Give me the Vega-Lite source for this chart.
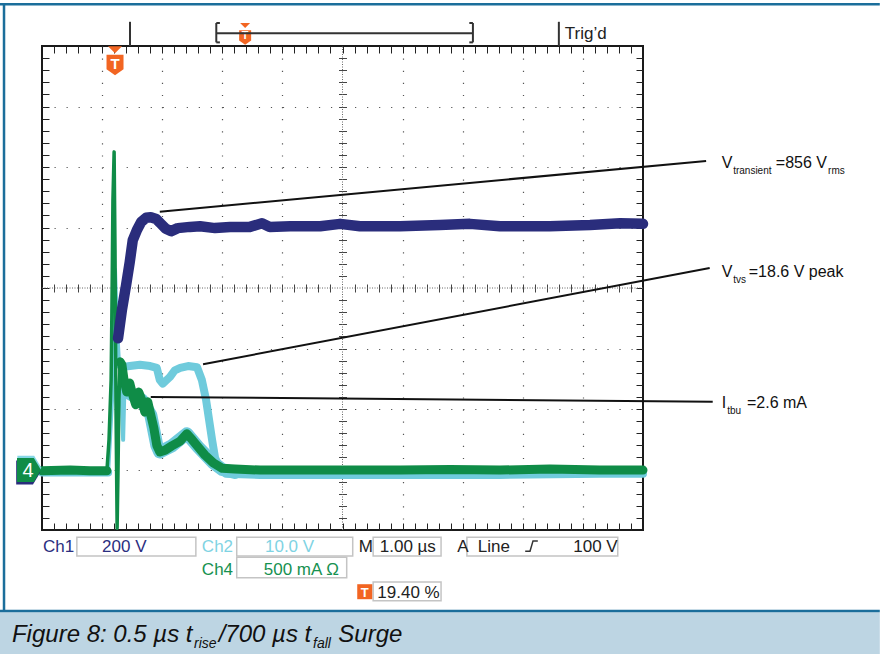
{
  "$schema": "https://vega.github.io/schema/vega-lite/v6.json",
  "width": 601,
  "height": 484,
  "autosize": {"type": "none"},
  "padding": {"left": 42, "top": 46, "right": 237, "bottom": 124},
  "background": "white",
  "config": {
    "view": {"stroke": "#1a1a1a", "strokeWidth": 2},
    "font": "Liberation Sans, Arial, sans-serif"
  },
  "datasets": {
    "ch1": [
      {"t":1.265,"v":-0.83},{"t":1.33,"v":-0.36},{"t":1.40,"v":0.05},{"t":1.46,"v":0.43},{"t":1.51,"v":0.79},{"t":1.58,"v":0.96},{"t":1.65,"v":1.09},{"t":1.73,"v":1.16},{"t":1.81,"v":1.17},{"t":1.90,"v":1.14},{"t":1.98,"v":1.06},{"t":2.06,"v":0.98},{"t":2.15,"v":0.94},{"t":2.26,"v":0.99},{"t":2.46,"v":1.01},{"t":2.63,"v":1.02},{"t":2.88,"v":0.99},{"t":3.13,"v":1.01},{"t":3.46,"v":1.01},{"t":3.66,"v":1.07},{"t":3.79,"v":1.01},{"t":4.13,"v":1.02},{"t":4.63,"v":1.02},{"t":4.96,"v":1.06},{"t":5.29,"v":1.02},{"t":5.96,"v":1.02},{"t":6.62,"v":1.04},{"t":7.12,"v":1.06},{"t":7.62,"v":1.02},{"t":8.45,"v":1.02},{"t":9.12,"v":1.04},{"t":9.62,"v":1.07},{"t":10.0,"v":1.06}
    ],
    "ch2": [
      {"seg":"a","t":0,"v":-3.05},{"seg":"a","t":1.10,"v":-3.05},
      {"seg":"b","t":1.28,"v":-1.22},{"seg":"b","t":1.31,"v":-1.29},{"seg":"b","t":1.38,"v":-1.30},{"seg":"b","t":1.46,"v":-1.29},{"seg":"b","t":1.63,"v":-1.27},{"seg":"b","t":1.80,"v":-1.29},{"seg":"b","t":1.91,"v":-1.32},{"seg":"b","t":1.96,"v":-1.52},{"seg":"b","t":2.01,"v":-1.58},{"seg":"b","t":2.13,"v":-1.47},{"seg":"b","t":2.21,"v":-1.36},{"seg":"b","t":2.30,"v":-1.32},{"seg":"b","t":2.43,"v":-1.29},{"seg":"b","t":2.58,"v":-1.31},{"seg":"b","t":2.66,"v":-1.52},{"seg":"b","t":2.73,"v":-1.85},{"seg":"b","t":2.78,"v":-2.18},{"seg":"b","t":2.83,"v":-2.51},{"seg":"b","t":2.88,"v":-2.81},{"seg":"b","t":2.96,"v":-2.98},{"seg":"b","t":3.06,"v":-3.07},{"seg":"b","t":3.63,"v":-3.09},{"seg":"b","t":4.5,"v":-3.09},{"seg":"b","t":5.96,"v":-3.09},{"seg":"b","t":7.62,"v":-3.09},{"seg":"b","t":9.28,"v":-3.07},{"seg":"b","t":10,"v":-3.07}
    ],
    "ch2halo": [
      {"t":1.41,"v":-1.72},{"t":1.51,"v":-1.77},{"t":1.66,"v":-1.85},{"t":1.81,"v":-2.10},{"t":1.91,"v":-2.60},{"t":1.96,"v":-2.71},{"t":2.16,"v":-2.61},{"t":2.41,"v":-2.41},{"t":2.60,"v":-2.63},{"t":2.85,"v":-2.89},{"t":3.00,"v":-3.00},{"t":3.21,"v":-3.05}
    ],
    "ch2spike": [
      {"seg":"a","t":1.10,"v":-3.04},{"seg":"a","t":1.13,"v":-2.51},{"seg":"a","t":1.165,"v":-1.85},{"seg":"a","t":1.18,"v":-0.69},{"seg":"a","t":1.215,"v":0.30},{"seg":"a","t":1.25,"v":-0.69},{"seg":"a","t":1.28,"v":-1.22},
      {"seg":"b","t":1.31,"v":-1.29},{"seg":"b","t":1.35,"v":-2.51},{"seg":"b","t":1.38,"v":-1.32}
    ],
    "ch4": [
      {"seg":"a","t":0,"v":-3.02},{"seg":"a","t":0.47,"v":-3.01},{"seg":"a","t":0.80,"v":-3.02},{"seg":"a","t":1.08,"v":-3.02},
      {"seg":"b","t":1.30,"v":-1.22},{"seg":"b","t":1.33,"v":-1.27},{"seg":"b","t":1.365,"v":-1.52},{"seg":"b","t":1.41,"v":-1.72},{"seg":"b","t":1.46,"v":-1.57},{"seg":"b","t":1.51,"v":-1.77},{"seg":"b","t":1.56,"v":-1.93},{"seg":"b","t":1.61,"v":-1.72},{"seg":"b","t":1.66,"v":-1.85},{"seg":"b","t":1.71,"v":-2.05},{"seg":"b","t":1.76,"v":-1.88},{"seg":"b","t":1.81,"v":-2.10},{"seg":"b","t":1.86,"v":-2.31},{"seg":"b","t":1.91,"v":-2.60},{"seg":"b","t":1.96,"v":-2.71},{"seg":"b","t":2.05,"v":-2.68},{"seg":"b","t":2.16,"v":-2.61},{"seg":"b","t":2.30,"v":-2.53},{"seg":"b","t":2.41,"v":-2.41},{"seg":"b","t":2.50,"v":-2.51},{"seg":"b","t":2.60,"v":-2.63},{"seg":"b","t":2.71,"v":-2.76},{"seg":"b","t":2.85,"v":-2.89},{"seg":"b","t":3.00,"v":-2.98},{"seg":"b","t":3.21,"v":-2.99},{"seg":"b","t":3.63,"v":-3.01},{"seg":"b","t":4.29,"v":-3.01},{"seg":"b","t":5.12,"v":-3.01},{"seg":"b","t":5.96,"v":-3.01},{"seg":"b","t":6.79,"v":-3.00},{"seg":"b","t":7.62,"v":-3.01},{"seg":"b","t":8.45,"v":-2.99},{"seg":"b","t":9.28,"v":-3.01},{"seg":"b","t":10,"v":-3.01}
    ],
    "ch4spike": [
      {"t":1.08,"v":-3.02},{"t":1.115,"v":-2.51},{"t":1.15,"v":-1.52},{"t":1.165,"v":-0.20},{"t":1.18,"v":1.45},{"t":1.20,"v":2.25},{"t":1.215,"v":0.63},{"t":1.23,"v":-1.85},{"t":1.25,"v":-3.97},{"t":1.265,"v":-3.01},{"t":1.28,"v":-1.85},{"t":1.30,"v":-1.22}
    ],
    "ann": [
      {"t":1.96,"v":1.26,"t2":11.05,"v2":2.10},
      {"t":2.68,"v":-1.26,"t2":11.11,"v2":0.33},
      {"t":1.81,"v":-1.80,"t2":11.16,"v2":-1.88}
    ],
    "annMain": [
      {"t":11.31,"v":1.98,"label":"V"},
      {"t":12.21,"v":1.98,"label":"=856 V"},
      {"t":11.31,"v":0.18,"label":"V"},
      {"t":11.76,"v":0.18,"label":"=18.6 V peak"},
      {"t":11.31,"v":-1.98,"label":"I"},
      {"t":11.73,"v":-1.98,"label":"=2.6 mA"}
    ],
    "annSub": [
      {"t":11.50,"v":1.88,"label":"transient"},
      {"t":13.08,"v":1.88,"label":"rms"},
      {"t":11.50,"v":0.08,"label":"tvs"},
      {"t":11.40,"v":-2.08,"label":"tbu"}
    ],
    "band": [{"t":-0.70,"v":-5.36,"t2":13.94,"v2":-6.06}],
    "frame": [
      {"t":-0.70,"v":4.69,"t2":13.94,"v2":4.69},
      {"t":-0.632,"v":4.69,"t2":-0.632,"v2":-5.34},
      {"t":-0.70,"v":-5.34,"t2":13.94,"v2":-5.34}
    ],
    "cross": [
      {"t":5,"v":-4,"t2":5,"v2":4},
      {"t":0,"v":0,"t2":10,"v2":0}
    ],
    "hdr": [
      {"t":1.464,"v":4.40,"t2":1.464,"v2":4.0},
      {"t":8.60,"v":4.40,"t2":8.60,"v2":4.0},
      {"t":2.90,"v":4.21,"t2":7.17,"v2":4.21},
      {"t":2.90,"v":4.06,"t2":2.90,"v2":4.38},
      {"t":2.90,"v":4.38,"t2":2.96,"v2":4.38},
      {"t":2.90,"v":4.06,"t2":2.96,"v2":4.06},
      {"t":7.17,"v":4.06,"t2":7.17,"v2":4.38},
      {"t":7.11,"v":4.38,"t2":7.17,"v2":4.38},
      {"t":7.11,"v":4.06,"t2":7.17,"v2":4.06}
    ],
    "boxes": [
      {"t":0.58,"v":-4.12,"t2":2.56,"v2":-4.43},
      {"t":3.24,"v":-4.12,"t2":5.17,"v2":-4.43},
      {"t":5.51,"v":-4.12,"t2":6.64,"v2":-4.43},
      {"t":7.07,"v":-4.12,"t2":9.58,"v2":-4.43},
      {"t":3.24,"v":-4.45,"t2":5.07,"v2":-4.79},
      {"t":5.51,"v":-4.86,"t2":6.64,"v2":-5.17}
    ],
    "readout": [
      {"t":0.017,"v":-4.36,"label":"Ch1","ch":"ch1"},
      {"t":1.0,"v":-4.36,"label":"200 V","ch":"ch1"},
      {"t":2.66,"v":-4.36,"label":"Ch2","ch":"ch2"},
      {"t":3.71,"v":-4.36,"label":"10.0 V","ch":"ch2"},
      {"t":5.27,"v":-4.36,"label":"M","ch":"sys"},
      {"t":5.62,"v":-4.36,"label":"1.00 µs","ch":"sys"},
      {"t":6.91,"v":-4.36,"label":"A","ch":"sys"},
      {"t":7.25,"v":-4.36,"label":"Line","ch":"sys"},
      {"t":8.84,"v":-4.36,"label":"100 V","ch":"sys"},
      {"t":2.66,"v":-4.74,"label":"Ch4","ch":"ch4"},
      {"t":3.69,"v":-4.74,"label":"500 mA Ω","ch":"ch4"},
      {"t":5.58,"v":-5.12,"label":"19.40 %","ch":"sys"}
    ],
    "edge": [{"t":8.04,"v":-4.35},{"t":8.12,"v":-4.35},{"t":8.17,"v":-4.18},{"t":8.25,"v":-4.18}],
    "capMain": [
      {"t":-0.50,"v":-5.85,"label":"Figure 8: 0.5 µs t"},
      {"t":2.94,"v":-5.85,"label":"/700 µs t"},
      {"t":4.93,"v":-5.85,"label":"Surge"}
    ],
    "capSub": [
      {"t":2.53,"v":-5.95,"label":"rise"},
      {"t":4.51,"v":-5.95,"label":"fall"}
    ]
  },
  "encoding": {
    "x": {"field": "t", "type": "quantitative", "scale": {"domain": [0, 10], "nice": false, "zero": false}, "axis": null},
    "y": {"field": "v", "type": "quantitative", "scale": {"domain": [-4, 4], "nice": false, "zero": false}, "axis": null}
  },
  "resolve": {"axis": {"x": "independent", "y": "independent"}},
  "layer": [
    {"data": {"name": "band"}, "mark": {"type": "rect", "color": "#bdd5e3"}, "encoding": {"x2": {"field": "t2"}, "y2": {"field": "v2"}}},
    {"data": {"name": "frame"}, "mark": {"type": "rule", "color": "#1b6e9b", "strokeWidth": 2.5}, "encoding": {"x2": {"field": "t2"}, "y2": {"field": "v2"}}},
    {
      "data": {"values": [{"t": 5, "v": 0}]},
      "mark": {"type": "point", "opacity": 0},
      "encoding": {
        "x": {"field": "t", "type": "quantitative", "scale": {"domain": [0, 10], "nice": false, "zero": false},
          "axis": {"orient": "bottom", "offset": -7, "tickSize": 7, "domain": false, "labels": false, "grid": false, "title": null, "tickColor": "#222", "tickWidth": 1,
            "values": [0.2,0.4,0.6,0.8,1,1.2,1.4,1.6,1.8,2,2.2,2.4,2.6,2.8,3,3.2,3.4,3.6,3.8,4,4.2,4.4,4.6,4.8,5,5.2,5.4,5.6,5.8,6,6.2,6.4,6.6,6.8,7,7.2,7.4,7.6,7.8,8,8.2,8.4,8.6,8.8,9,9.2,9.4,9.6,9.8]}},
        "y": {"field": "v", "type": "quantitative", "scale": {"domain": [-4, 4], "nice": false, "zero": false},
          "axis": {"orient": "left", "offset": -7, "tickSize": 7, "domain": false, "labels": false, "grid": false, "title": null, "tickColor": "#222", "tickWidth": 1,
            "values": [-3.8,-3.6,-3.4,-3.2,-3,-2.8,-2.6,-2.4,-2.2,-2,-1.8,-1.6,-1.4,-1.2,-1,-0.8,-0.6,-0.4,-0.2,0,0.2,0.4,0.6,0.8,1,1.2,1.4,1.6,1.8,2,2.2,2.4,2.6,2.8,3,3.2,3.4,3.6,3.8]}}
      }
    },
    {
      "data": {"values": [{"t": 5, "v": 0}]},
      "mark": {"type": "point", "opacity": 0},
      "encoding": {
        "x": {"field": "t", "type": "quantitative", "scale": {"domain": [0, 10], "nice": false, "zero": false},
          "axis": {"orient": "top", "offset": -7, "tickSize": 7, "domain": false, "labels": false, "grid": false, "title": null, "tickColor": "#222", "tickWidth": 1,
            "values": [0.2,0.4,0.6,0.8,1,1.2,1.4,1.6,1.8,2,2.2,2.4,2.6,2.8,3,3.2,3.4,3.6,3.8,4,4.2,4.4,4.6,4.8,5,5.2,5.4,5.6,5.8,6,6.2,6.4,6.6,6.8,7,7.2,7.4,7.6,7.8,8,8.2,8.4,8.6,8.8,9,9.2,9.4,9.6,9.8]}},
        "y": {"field": "v", "type": "quantitative", "scale": {"domain": [-4, 4], "nice": false, "zero": false},
          "axis": {"orient": "right", "offset": -7, "tickSize": 7, "domain": false, "labels": false, "grid": false, "title": null, "tickColor": "#222", "tickWidth": 1,
            "values": [-3.8,-3.6,-3.4,-3.2,-3,-2.8,-2.6,-2.4,-2.2,-2,-1.8,-1.6,-1.4,-1.2,-1,-0.8,-0.6,-0.4,-0.2,0,0.2,0.4,0.6,0.8,1,1.2,1.4,1.6,1.8,2,2.2,2.4,2.6,2.8,3,3.2,3.4,3.6,3.8]}}
      }
    },
    {
      "data": {"values": [{"t": 5, "v": 0}]},
      "mark": {"type": "point", "opacity": 0},
      "encoding": {
        "x": {"field": "t", "type": "quantitative", "scale": {"domain": [0, 10], "nice": false, "zero": false},
          "axis": {"orient": "bottom", "offset": -246, "tickSize": 8, "domain": false, "labels": false, "grid": false, "title": null, "tickColor": "#444", "tickWidth": 1,
            "values": [0.2,0.4,0.6,0.8,1,1.2,1.4,1.6,1.8,2,2.2,2.4,2.6,2.8,3,3.2,3.4,3.6,3.8,4,4.2,4.4,4.6,4.8,5.2,5.4,5.6,5.8,6,6.2,6.4,6.6,6.8,7,7.2,7.4,7.6,7.8,8,8.2,8.4,8.6,8.8,9,9.2,9.4,9.6,9.8]}},
        "y": {"field": "v", "type": "quantitative", "scale": {"domain": [-4, 4], "nice": false, "zero": false},
          "axis": {"orient": "left", "offset": -304.5, "tickSize": 8, "domain": false, "labels": false, "grid": false, "title": null, "tickColor": "#444", "tickWidth": 1,
            "values": [-3.8,-3.6,-3.4,-3.2,-3,-2.8,-2.6,-2.4,-2.2,-2,-1.8,-1.6,-1.4,-1.2,-1,-0.8,-0.6,-0.4,-0.2,0.2,0.4,0.6,0.8,1,1.2,1.4,1.6,1.8,2,2.2,2.4,2.6,2.8,3,3.2,3.4,3.6,3.8]}}
      }
    },
    {
      "data": {"values": [{"t": 5, "v": 0}]},
      "mark": {"type": "point", "opacity": 0},
      "encoding": {
        "x": {"field": "t", "type": "quantitative", "scale": {"domain": [0, 10], "nice": false, "zero": false},
          "axis": {"orient": "bottom", "ticks": false, "domain": false, "labels": false, "grid": true, "title": null, "gridColor": "#555", "gridWidth": 1.2, "gridDash": [1.2, 10.9], "values": [1,2,3,4,6,7,8,9]}},
        "y": {"field": "v", "type": "quantitative", "scale": {"domain": [-4, 4], "nice": false, "zero": false},
          "axis": {"orient": "left", "ticks": false, "domain": false, "labels": false, "grid": true, "title": null, "gridColor": "#555", "gridWidth": 1.2, "gridDash": [1.2, 10.82], "values": [-3,-2,-1,1,2,3]}}
      }
    },
    {"data": {"name": "cross"}, "mark": {"type": "rule", "color": "#666", "strokeWidth": 1, "strokeDash": [1, 1.5]}, "encoding": {"x2": {"field": "t2"}, "y2": {"field": "v2"}}},
    {"data": {"name": "ch2halo"}, "mark": {"type": "line", "color": "#6fcbdc", "strokeWidth": 13, "strokeJoin": "round", "strokeCap": "round"}},
    {"data": {"name": "ch2"}, "mark": {"type": "line", "color": "#6fcbdc", "strokeWidth": 8, "strokeJoin": "round", "strokeCap": "round"}, "encoding": {"detail": {"field": "seg"}}},
    {"data": {"name": "ch2spike"}, "mark": {"type": "line", "color": "#6fcbdc", "strokeWidth": 4, "strokeJoin": "round", "strokeCap": "round"}, "encoding": {"detail": {"field": "seg"}}},
    {"data": {"name": "ch4"}, "mark": {"type": "line", "color": "#0f8c47", "strokeWidth": 9, "strokeJoin": "round", "strokeCap": "round"}, "encoding": {"detail": {"field": "seg"}}},
    {"data": {"name": "ch4spike"}, "mark": {"type": "line", "color": "#0f8c47", "strokeWidth": 3.5, "strokeJoin": "round", "strokeCap": "round"}},
    {"data": {"name": "ch1"}, "mark": {"type": "line", "color": "#2a2d7c", "strokeWidth": 10.5, "strokeJoin": "round", "strokeCap": "round"}},
    {"data": {"name": "ann"}, "mark": {"type": "rule", "color": "#111", "strokeWidth": 2}, "encoding": {"x2": {"field": "t2"}, "y2": {"field": "v2"}}},
    {"data": {"name": "annMain"}, "mark": {"type": "text", "align": "left", "baseline": "alphabetic", "fontSize": 16, "color": "#111"}, "encoding": {"text": {"field": "label"}}},
    {"data": {"name": "annSub"}, "mark": {"type": "text", "align": "left", "baseline": "alphabetic", "fontSize": 10, "color": "#111"}, "encoding": {"text": {"field": "label"}}},
    {"data": {"values": [{"t": -0.21, "v": -2.97}]}, "mark": {"type": "point", "shape": "M-1,-1H0.4L1,0L0.4,1H-1Z", "size": 576, "filled": true, "opacity": 1, "color": "#86d7e6", "strokeWidth": 0}},
    {"data": {"values": [{"t": -0.23, "v": -3.05}]}, "mark": {"type": "point", "shape": "M-1,-1H0.4L1,0L0.4,1H-1Z", "size": 576, "filled": true, "opacity": 1, "color": "#2a2d7c", "strokeWidth": 0}},
    {"data": {"values": [{"t": -0.216, "v": -3.01}]}, "mark": {"type": "point", "shape": "M-1,-1H0.4L1,0L0.4,1H-1Z", "size": 576, "filled": true, "opacity": 1, "color": "#0f8c47", "strokeWidth": 0}},
    {"data": {"values": [{"t": -0.23, "v": -3.01, "label": "4"}]}, "mark": {"type": "text", "align": "center", "baseline": "middle", "fontSize": 20, "color": "white", "dy": 1}, "encoding": {"text": {"field": "label"}}},
    {"data": {"values": [{"t": 1.215, "v": 3.70}]}, "mark": {"type": "point", "shape": "M-1,-1.1H1V0.6L0,1.3L-1,0.6Z", "size": 289, "filled": true, "opacity": 1, "color": "#f26522", "strokeWidth": 0}},
    {"data": {"values": [{"t": 1.215, "v": 3.94}]}, "mark": {"type": "point", "shape": "M-1,-0.5H1L0,0.5Z", "size": 196, "filled": true, "opacity": 1, "color": "#f26522", "strokeWidth": 0}},
    {"data": {"values": [{"t": 1.215, "v": 3.71, "label": "T"}]}, "mark": {"type": "text", "align": "center", "baseline": "middle", "fontSize": 15, "fontWeight": "bold", "color": "white"}, "encoding": {"text": {"field": "label"}}},
    {"data": {"values": [{"t": 3.38, "v": 4.15}]}, "mark": {"type": "point", "shape": "M-1,-1.1H1V0.6L0,1.3L-1,0.6Z", "size": 144, "filled": true, "opacity": 1, "color": "#f26522", "strokeWidth": 0}},
    {"data": {"values": [{"t": 3.38, "v": 4.34}]}, "mark": {"type": "point", "shape": "M-1,-0.5H1L0,0.5Z", "size": 100, "filled": true, "opacity": 1, "color": "#f26522", "strokeWidth": 0}},
    {"data": {"values": [{"t": 3.38, "v": 4.16, "label": "T"}]}, "mark": {"type": "text", "align": "center", "baseline": "middle", "fontSize": 11, "fontWeight": "bold", "color": "white"}, "encoding": {"text": {"field": "label"}}},
    {"data": {"name": "boxes"}, "mark": {"type": "rect", "fill": "white", "stroke": "#c4c4c4", "strokeWidth": 1.5}, "encoding": {"x2": {"field": "t2"}, "y2": {"field": "v2"}}},
    {"data": {"name": "readout"}, "mark": {"type": "text", "align": "left", "baseline": "alphabetic", "fontSize": 17}, "encoding": {"text": {"field": "label"}, "color": {"field": "ch", "type": "nominal", "legend": null, "scale": {"domain": ["ch1", "ch2", "ch4", "sys"], "range": ["#2b2e80", "#7fd3e3", "#169150", "#222222"]}}}},
    {"data": {"name": "edge"}, "mark": {"type": "line", "color": "#333", "strokeWidth": 1.5}},
    {"data": {"values": [{"t": 5.37, "v": -5.02}]}, "mark": {"type": "square", "size": 225, "filled": true, "opacity": 1, "color": "#f26522", "strokeWidth": 0}},
    {"data": {"values": [{"t": 5.37, "v": -5.02, "label": "T"}]}, "mark": {"type": "text", "align": "center", "baseline": "middle", "fontSize": 13, "fontWeight": "bold", "color": "white", "dy": 1}, "encoding": {"text": {"field": "label"}}},
    {"data": {"name": "hdr"}, "mark": {"type": "rule", "color": "#333", "strokeWidth": 2}, "encoding": {"x2": {"field": "t2"}, "y2": {"field": "v2"}}},
    {"data": {"values": [{"t": 8.70, "v": 4.12, "label": "Trig’d"}]}, "mark": {"type": "text", "align": "left", "baseline": "alphabetic", "fontSize": 17, "color": "#222"}, "encoding": {"text": {"field": "label"}}},
    {"data": {"name": "capMain"}, "mark": {"type": "text", "align": "left", "baseline": "alphabetic", "fontSize": 24, "fontStyle": "italic", "color": "#111"}, "encoding": {"text": {"field": "label"}}},
    {"data": {"name": "capSub"}, "mark": {"type": "text", "align": "left", "baseline": "alphabetic", "fontSize": 14, "fontStyle": "italic", "color": "#111"}, "encoding": {"text": {"field": "label"}}}
  ]
}
